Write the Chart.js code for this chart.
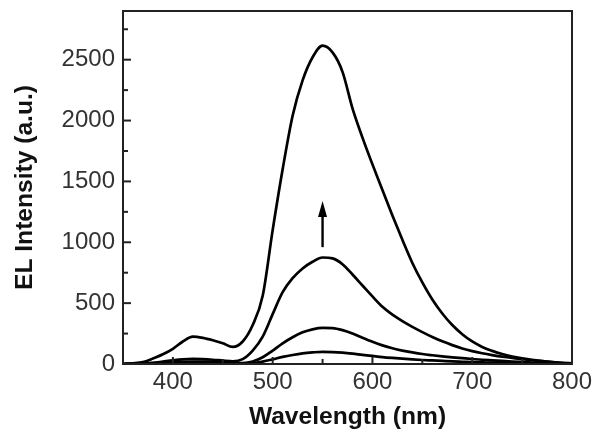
<!DOCTYPE html>
<html>
<head>
<meta charset="utf-8">
<script src="https://cdn.jsdelivr.net/npm/chart.js@4.4.0/dist/chart.umd.min.js"></script>
<style>
  html, body { margin: 0; padding: 0; background: #ffffff; }
  #wrap { width: 595px; height: 432px; }
</style>
</head>
<body>
<div id="wrap"><canvas id="c" width="595" height="432"></canvas></div>
<script>
// ---- data ----
const wavelength = [350,360,370,380,390,400,410,420,430,440,450,460,470,480,490,500,510,520,530,540,550,560,570,580,590,600,610,620,630,640,650,660,670,680,690,700,710,720,730,740,750,760,770,780,790,800];
const seriesA = [0,5,15,45,80,125,185,225,215,195,170,140,185,320,560,1100,1600,2040,2330,2520,2615,2560,2400,2100,1860,1640,1430,1220,1020,830,670,530,415,320,245,185,140,108,82,62,47,35,24,15,8,4];
const seriesB = [0,2,5,10,20,30,38,42,40,35,28,22,40,110,225,410,590,705,785,840,875,868,820,735,645,555,470,405,352,305,262,222,186,155,128,106,88,73,60,50,40,31,23,16,10,5];
const seriesC = [0,2,4,7,10,15,18,20,19,18,14,10,8,20,55,110,170,220,260,285,297,295,278,250,215,182,153,129,110,95,82,72,63,55,48,41,35,30,25,20,16,12,9,6,4,2];
const seriesD = [0,1,2,3,5,6,7,8,7,6,5,4,4,8,20,38,58,74,87,95,100,98,93,85,75,66,57,50,44,38,33,29,25,21,18,15,13,11,9,8,7,5,4,3,2,1];
const xTickLabels = [400,500,600,700,800];
const xMinorTicks = [450,550,650,750];
const yTickLabels = [0,500,1000,1500,2000,2500];
const yMinorTicks = [250,750,1250,1750,2250,2750];
const arrowX = [550];
const arrowFromTo = [960, 1340];

const FONT = '"Liberation Sans", Arial, Helvetica, sans-serif';
const series = [seriesA, seriesB, seriesC, seriesD];

const datasets = series.map(s => ({
  data: wavelength.map((w, i) => ({x: w, y: s[i]})),
  borderColor: '#000000',
  borderWidth: 2.7,
  pointRadius: 0,
  fill: false,
  cubicInterpolationMode: 'monotone'
}));

const framePlugin = {
  id: 'frame',
  afterDraw(chart) {
    const {ctx, chartArea: a, scales: {x, y}} = chart;
    ctx.save();
    ctx.strokeStyle = '#222222';
    ctx.lineWidth = 2;
    const tick = (px, len, horiz) => {
      ctx.beginPath();
      if (horiz) { ctx.moveTo(px, a.bottom); ctx.lineTo(px, a.bottom - len); }
      else { ctx.moveTo(a.left, px); ctx.lineTo(a.left + len, px); }
      ctx.stroke();
    };
    xTickLabels.forEach(v => tick(x.getPixelForValue(v), 7, true));
    xMinorTicks.forEach(v => tick(x.getPixelForValue(v), 5, true));
    yTickLabels.forEach(v => tick(y.getPixelForValue(v), 8, false));
    yMinorTicks.forEach(v => tick(y.getPixelForValue(v), 5, false));
    ctx.strokeRect(a.left, a.top, a.right - a.left, a.bottom - a.top);
    // arrow
    const ax = x.getPixelForValue(arrowX[0]);
    const y0 = y.getPixelForValue(arrowFromTo[0]);
    const y1 = y.getPixelForValue(arrowFromTo[1]);
    ctx.strokeStyle = '#000000';
    ctx.fillStyle = '#000000';
    ctx.lineWidth = 2.4;
    ctx.beginPath();
    ctx.moveTo(ax, y0);
    ctx.lineTo(ax, y1 + 12);
    ctx.stroke();
    ctx.beginPath();
    ctx.moveTo(ax, y1);
    ctx.lineTo(ax - 4.5, y1 + 16);
    ctx.lineTo(ax + 4.5, y1 + 16);
    ctx.closePath();
    ctx.fill();
    ctx.restore();
  }
};

new Chart(document.getElementById('c'), {
  type: 'line',
  data: { datasets },
  options: {
    responsive: false,
    animation: false,
    devicePixelRatio: 1,
    layout: { padding: { left: 0, top: 11, right: 23, bottom: 0 } },
    plugins: { legend: { display: false }, tooltip: { enabled: false } },
    scales: {
      x: {
        type: 'linear',
        min: 350, max: 800,
        grid: { display: false, drawTicks: false },
        border: { display: false },
        afterBuildTicks: s => { s.ticks = xTickLabels.map(v => ({value: v})); },
        afterFit: s => { s.height = 68; s.paddingLeft = 0; s.paddingRight = 0; },
        ticks: { color: '#333333', font: { family: FONT, size: 24 }, padding: 4, maxRotation: 0, autoSkip: false,
                 callback: v => String(v) },
        title: { display: true, text: 'Wavelength (nm)', color: '#111111',
                 font: { family: FONT, size: 24.6, weight: 'bold' }, padding: { top: 0, bottom: 0 } }
      },
      y: {
        min: 0, max: 2900,
        grid: { display: false, drawTicks: false },
        border: { display: false },
        afterBuildTicks: s => { s.ticks = yTickLabels.map(v => ({value: v})); },
        afterFit: s => { s.width = 123; s.paddingTop = 0; s.paddingBottom = 0; },
        ticks: { color: '#333333', font: { family: FONT, size: 24 }, padding: 8, autoSkip: false,
                 callback: v => String(v) },
        title: { display: true, text: 'EL Intensity (a.u.)', color: '#111111',
                 font: { family: FONT, size: 24.6, weight: 'bold' }, padding: { top: 10, bottom: 0 } }
      }
    }
  },
  plugins: [framePlugin]
});
</script>
</body>
</html>
